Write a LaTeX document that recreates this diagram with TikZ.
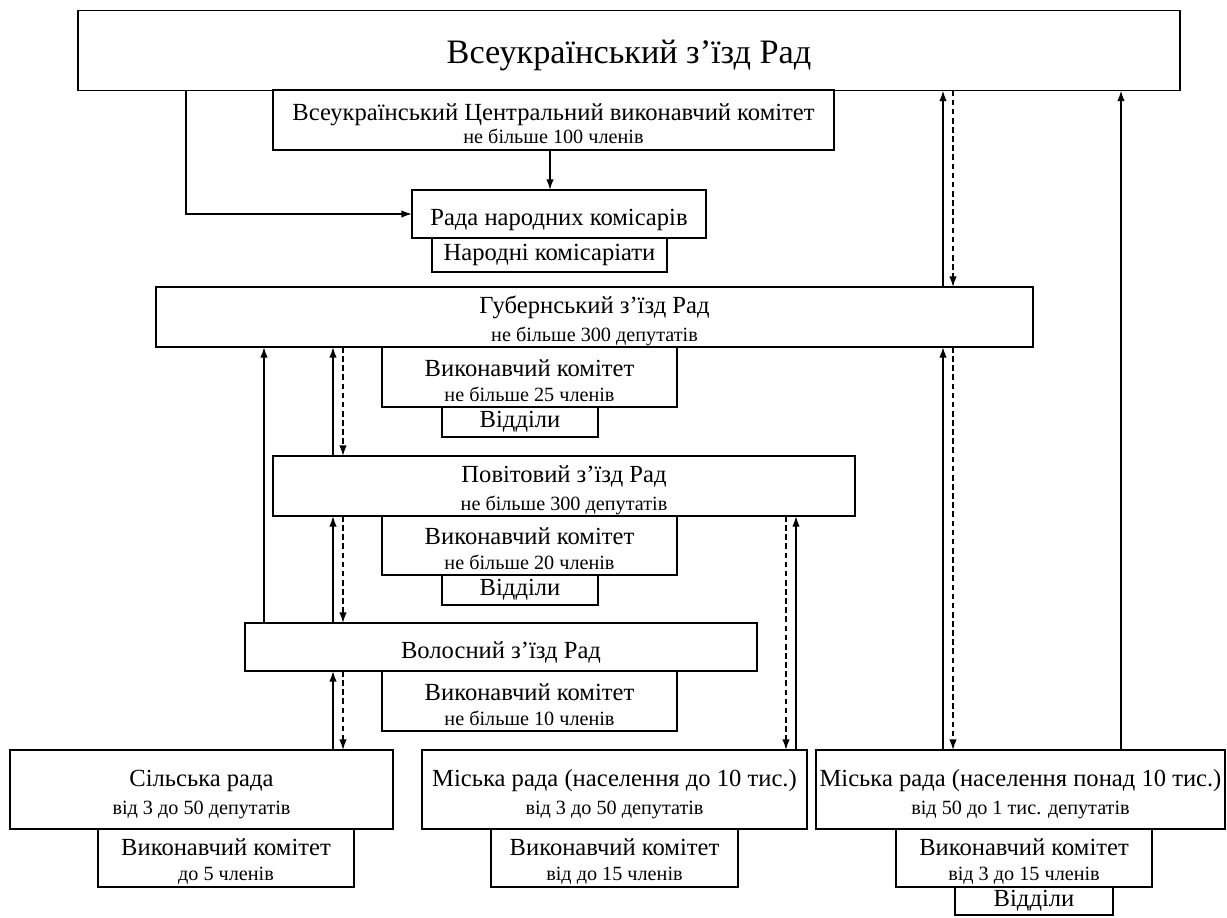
\documentclass[tikz,border=0pt]{standalone}
\usepackage{fontspec}
\setmainfont{Liberation Serif}
\usetikzlibrary{arrows.meta}
\newcommand\notesize{\fontsize{11.5}{13}\selectfont}
\newcommand\lift[1][16pt]{\rule{0pt}{#1}}

\begin{document}
\begin{tikzpicture}[x=0.02cm,y=-0.02cm,
    unit/.style={draw,line width=0.8pt,fill=white,inner sep=0pt,outer sep=0pt,
      align=center,font=\fontsize{14}{16}\selectfont},
    upline/.style={-{Latex[length=6pt,width=4.2pt]},line width=0.9pt},
    downline/.style={-{Latex[length=6pt,width=4.2pt]},line width=0.8pt,dash pattern=on 3.2pt off 2pt}]
  \useasboundingbox (0,0) rectangle (1227,918);

  % top level
  \node[unit,minimum width=22.04cm,minimum height=1.6cm,font=\fontsize{19.5}{22}\selectfont] (ukr) at (629,50.5) {\lift[19pt]Всеукраїнський з'їзд Рад};
  \node[unit,minimum width=11.22cm,minimum height=1.2cm] (vck) at (553.5,120)
    {\lift[14pt]Всеукраїнський Центральний виконавчий комітет\\[-3pt]{\notesize не більше 100 членів}};
  \node[unit,minimum width=5.88cm,minimum height=0.96cm] (rnk) at (559,214) {\lift Рада народних комісарів};
  \node[unit,minimum width=4.7cm,minimum height=0.68cm] (nkom) at (549.5,255) {Народні комісаріати};

  % guberniya
  \node[unit,minimum width=17.54cm,minimum height=1.2cm] (gub) at (594.5,317)
    {\lift[14pt]Губернський з'їзд Рад\\[0pt]{\notesize не більше 300 депутатів}};
  \node[unit,minimum width=5.9cm,minimum height=1.2cm] (gubvk) at (529.5,377)
    {\lift[13.5pt]Виконавчий комітет\\[-2pt]{\notesize не більше 25 членів}};
  \node[unit,minimum width=3.12cm,minimum height=0.6cm] (gubvid) at (520,422) {Відділи};

  % povit
  \node[unit,minimum width=11.64cm,minimum height=1.2cm] (pov) at (564,486)
    {\lift[14pt]Повітовий з'їзд Рад\\[0pt]{\notesize не більше 300 депутатів}};
  \node[unit,minimum width=5.9cm,minimum height=1.18cm] (povvk) at (529.5,545.5)
    {\lift[13.5pt]Виконавчий комітет\\[-2pt]{\notesize не більше 20 членів}};
  \node[unit,minimum width=3.12cm,minimum height=0.6cm] (povvid) at (520,590) {Відділи};

  % volost
  \node[unit,minimum width=10.24cm,minimum height=0.96cm] (vol) at (501,647) {\lift Волосний з'їзд Рад};
  \node[unit,minimum width=5.9cm,minimum height=1.2cm] (volvk) at (529.5,701)
    {\lift[13.5pt]Виконавчий комітет\\[-2pt]{\notesize не більше 10 членів}};

  % local councils
  \node[unit,minimum width=7.66cm,minimum height=1.58cm] (sil) at (201.5,789.5)
    {\lift[15pt]Сільська рада\\[0.5pt]{\notesize від 3 до 50 депутатів}};
  \node[unit,minimum width=5.12cm,minimum height=1.16cm] (silvk) at (226,858)
    {\lift[13.5pt]Виконавчий комітет\\[-2pt]{\notesize до 5 членів}};
  \node[unit,minimum width=7.7cm,minimum height=1.58cm] (misa) at (614.5,789.5)
    {\lift[15pt]Міська рада (населення до 10 тис.)\\[0.5pt]{\notesize від 3 до 50 депутатів}};
  \node[unit,minimum width=4.94cm,minimum height=1.16cm] (misavk) at (614.5,858)
    {\lift[13.5pt]Виконавчий комітет\\[-2pt]{\notesize від до 15 членів}};
  \node[unit,minimum width=8.18cm,minimum height=1.58cm] (misb) at (1020.5,789.5)
    {\lift[15pt]Міська рада (населення понад 10 тис.)\\[0.5pt]{\notesize від 50 до 1 тис. депутатів}};
  \node[unit,minimum width=5.12cm,minimum height=1.16cm] (misbvk) at (1024,858)
    {\lift[13.5pt]Виконавчий комітет\\[-2pt]{\notesize від 3 до 15 членів}};
  \node[unit,minimum width=3.16cm,minimum height=0.56cm] (misbvid) at (1034,901) {Відділи};

  % columns of the connectors
  \coordinate (cola) at (186,0);
  \coordinate (colb) at (264,0);
  \coordinate (colc) at (333,0);
  \coordinate (cold) at (343,0);
  \coordinate (cole) at (550,0);
  \coordinate (colf) at (786,0);
  \coordinate (colg) at (796,0);
  \coordinate (colh) at (943,0);
  \coordinate (coli) at (953,0);
  \coordinate (colj) at (1121,0);

  \draw[upline] (ukr.south -| cola) |- (rnk.west);
  \draw[upline] (vck.south -| cole) -- (rnk.north -| cole);

  \draw[upline] (gub.north -| colh) -- (ukr.south -| colh);
  \draw[downline] (ukr.south -| coli) -- (gub.north -| coli);
  \draw[upline] (misb.north -| colh) -- (gub.south -| colh);
  \draw[downline] (gub.south -| coli) -- (misb.north -| coli);
  \draw[upline] (misb.north -| colj) -- (ukr.south -| colj);

  \draw[upline] (vol.north -| colb) -- (gub.south -| colb);
  \draw[upline] (pov.north -| colc) -- (gub.south -| colc);
  \draw[downline] (gub.south -| cold) -- (pov.north -| cold);
  \draw[upline] (vol.north -| colc) -- (pov.south -| colc);
  \draw[downline] (pov.south -| cold) -- (vol.north -| cold);
  \draw[upline] (sil.north -| colc) -- (vol.south -| colc);
  \draw[downline] (vol.south -| cold) -- (sil.north -| cold);

  \draw[downline] (pov.south -| colf) -- (misa.north -| colf);
  \draw[upline] (misa.north -| colg) -- (pov.south -| colg);
\end{tikzpicture}
\end{document}
